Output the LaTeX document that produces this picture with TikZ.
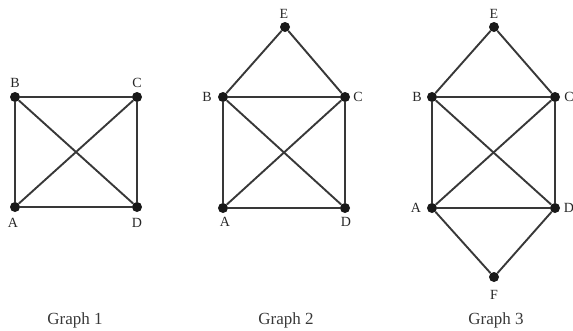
\documentclass[tikz,border=0pt]{standalone}
\usepackage{fontspec}
\setmainfont{Liberation Serif}
\begin{document}
\begin{tikzpicture}[x=1pt,y=-1pt,
  vtx/.style={circle,fill=black!90,inner sep=0pt,minimum size=10pt},
  edge/.style={line width=1.9pt,draw=black!78},
  lbl/.style={font=\fontsize{14}{14}\selectfont,text=black!85,inner sep=0pt},
  captxt/.style={font=\fontsize{17}{17}\selectfont,text=black!78,inner sep=0pt}]
\useasboundingbox (0,0) rectangle (573,330);
% Graph 1
\node[vtx] (A1) at (15,207) {};
\node[vtx] (B1) at (15,97) {};
\node[vtx] (C1) at (137,97) {};
\node[vtx] (D1) at (137,207) {};
\draw[edge] (B1)--(C1) (C1)--(D1) (D1)--(A1) (A1)--(B1) (B1)--(D1) (A1)--(C1);
\node[lbl] (lA1) at (13,223) {A};
\node[lbl] (lB1) at (15,83) {B};
\node[lbl] (lC1) at (137,83) {C};
\node[lbl] (lD1) at (137,223) {D};
\node[captxt] (g1) at (75,320) {Graph 1};
% Graph 2
\node[vtx] (E2) at (285,27) {};
\node[vtx] (B2) at (223,97) {};
\node[vtx] (C2) at (345,97) {};
\node[vtx] (A2) at (223,208) {};
\node[vtx] (D2) at (345,208) {};
\draw[edge] (E2)--(B2) (E2)--(C2) (B2)--(C2) (C2)--(D2) (D2)--(A2) (A2)--(B2) (B2)--(D2) (A2)--(C2);
\node[lbl] (lE2) at (284,14) {E};
\node[lbl] (lB2) at (207,97) {B};
\node[lbl] (lC2) at (358,97) {C};
\node[lbl] (lA2) at (225,222) {A};
\node[lbl] (lD2) at (346,222) {D};
\node[captxt] (g2) at (286,320) {Graph 2};
% Graph 3
\node[vtx] (E3) at (494,27) {};
\node[vtx] (B3) at (432,97) {};
\node[vtx] (C3) at (555,97) {};
\node[vtx] (A3) at (432,208) {};
\node[vtx] (D3) at (555,208) {};
\node[vtx] (F3) at (494,277) {};
\draw[edge] (E3)--(B3) (E3)--(C3) (B3)--(C3) (C3)--(D3) (D3)--(A3) (A3)--(B3) (B3)--(D3) (A3)--(C3) (A3)--(F3) (D3)--(F3);
\node[lbl] (lE3) at (494,14) {E};
\node[lbl] (lB3) at (417,97) {B};
\node[lbl] (lC3) at (569,97) {C};
\node[lbl] (lA3) at (416,208) {A};
\node[lbl] (lD3) at (569,208) {D};
\node[lbl] (lF3) at (494,295) {F};
\node[captxt] (g3) at (496,320) {Graph 3};
\end{tikzpicture}
\end{document}
